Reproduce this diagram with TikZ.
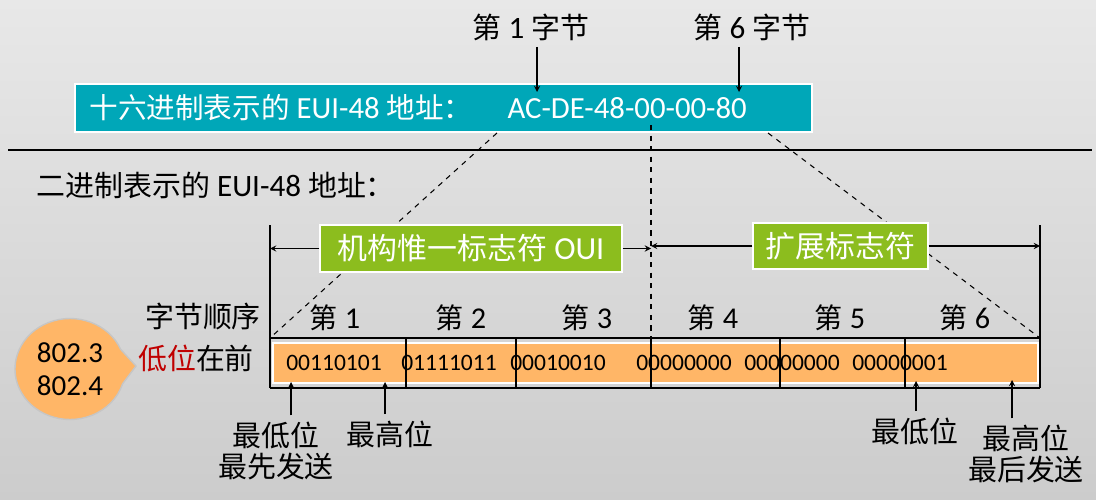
\documentclass[tikz,border=0pt]{standalone}
\usepackage{fontspec}
\setmainfont{Carlito}
\newfontfamily\cjk[Scale=0.93]{Noto Sans CJK SC}
\usetikzlibrary{shapes.callouts}
\definecolor{hexteal}{RGB}{0,167,184}
\definecolor{ouigreen}{RGB}{140,189,30}
\definecolor{bitorange}{RGB}{255,182,103}
\definecolor{lowred}{RGB}{192,0,0}
\tikzset{
  big text/.style={font=\fontsize{17.7}{21}\selectfont},
  hex text/.style={font=\fontsize{17.5}{21}\selectfont, text=white, inner sep=0pt},
  hexbox/.style={fill=hexteal, draw=white, line width=0.8pt},
  ouibox/.style={fill=ouigreen, draw=white, line width=0.8pt, text=white,
    font=\fontsize{18.3}{21}\selectfont},
  byte label/.style={font=\fontsize{17.2}{20}\selectfont},
  bit text/.style={font=\fontsize{13.4}{16}\selectfont},
  note/.style={font=\fontsize{17.7}{18}\selectfont, align=center},
  std bubble/.style={ellipse callout, fill=bitorange, draw=gray!45,
    line width=0.8pt, align=center, font=\fontsize{16.5}{19}\selectfont}
}

\begin{document}
\begin{tikzpicture}[x=0.02cm, y=-0.02cm, line width=0.6pt, >=stealth]
  % background
  \shade[top color={rgb,255:red,232;green,232;blue,232},
         bottom color={rgb,255:red,204;green,204;blue,204}]
    (0,0) rectangle (1096,500);
  \useasboundingbox (0,0) rectangle (1096,500);

  % hex address box
  \node[hexbox, minimum width=14.74cm, minimum height=0.96cm] (hex) at (443.5,108) {};
  \node[hex text, anchor=west] (hexname) at (89,108) {{\cjk 十六进制表示的} EUI-48 {\cjk 地址：}};
  \node[hex text, anchor=west] (hexval) at (507,108) {AC-DE-48-00-00-80};

  % first / last byte pointers
  \node[big text] (firstbyte) at (531,27) {{\cjk 第} 1 {\cjk 字节}};
  \node[big text] (lastbyte) at (752,27) {{\cjk 第} 6 {\cjk 字节}};
  \coordinate (tipA) at (537,92);
  \coordinate (tipB) at (739,92);
  \draw[->] (firstbyte.south -| tipA) -- (tipA);
  \draw[->] (lastbyte.south -| tipB) -- (tipB);

  % separator
  \coordinate (sepL) at (8,150);
  \coordinate (sepR) at (1092,150);
  \draw (sepL) -- (sepR);

  \node[big text, anchor=west, inner sep=0pt] (binname) at (36,185) {{\cjk 二进制表示的} EUI-48 {\cjk 地址：}};

  % frame corners
  \coordinate (frameTL) at (270,225);
  \coordinate (frameTR) at (1040,225);
  \coordinate (bitTL) at (270,338);
  \coordinate (bitTM) at (651,338);
  \coordinate (bitTR) at (1040,338);
  \coordinate (bitBL) at (270,388);
  \coordinate (bitBR) at (1040,388);

  % projection lines (behind the green boxes)
  \coordinate (hexA) at (497,133);
  \coordinate (hexM) at (651,125);
  \coordinate (hexB) at (768,133);
  \draw[dashed] (hexA) -- (bitTL);
  \draw[dashed] (hexM) -- (bitTM);
  \draw[dashed] (hexB) -- (bitTR);

  % bit field
  \filldraw[fill=bitorange, draw=white, line width=1.2pt] (273,343) rectangle (1038,383);
  \draw (frameTL) -- (bitBL);
  \draw (frameTR) -- (bitBR);
  \draw (bitTL) -- (bitTR);
  \draw (bitBL) -- (bitBR);
  \foreach \x in {406,516,651,780,905}
    \draw (\x,338) -- (\x,388);

  % OUI / extension
  \node[ouibox, minimum width=6.04cm, minimum height=0.94cm] (oui) at (471,248.5) {{\cjk 机构惟一标志符} OUI};
  \node[ouibox, minimum width=3.5cm, minimum height=0.92cm] (ext) at (840.5,246) {\cjk 扩展标志符};
  \draw[->] (oui.west) -- (oui.west -| frameTL);
  \draw[->] (oui.east) -- (oui.east -| bitTM);
  \draw[->] (ext.west) -- (ext.west -| bitTM);
  \draw[->] (ext.east) -- (ext.east -| frameTR);

  % byte order
  \foreach \i/\x in {1/335,2/461,3/587,4/713,5/840,6/965}
    \node[byte label] (ord\i) at (\x,318) {{\cjk 第} \i};
  \foreach \i/\x/\b in {1/334/00110101,2/449/01111011,3/558/00010010,
                        4/684/00000000,5/792/00000000,6/900/00000001}
    \node[bit text] (bits\i) at (\x,363) {\b};

  \node[big text] (order) at (203,316) {\cjk 字节顺序};
  \node[big text] (lowfirst) at (196,358) {\cjk\textcolor{lowred}{低位}在前};

  % 802.3 / 802.4 bubble
  \coordinate (ptr) at (136,366);
  \node[std bubble, callout absolute pointer={(ptr)}, callout pointer arc=40,
        minimum width=2.06cm, minimum height=2.02cm] (std) at (70,369) {802.3\\802.4};

  % lowest / highest bits
  \node[note] (firstlow) at (276,451) {\cjk 最低位\\\cjk 最先发送};
  \node[note] (lefthigh) at (390,434) {\cjk 最高位};
  \node[note] (lastlow) at (915,431) {\cjk 最低位};
  \node[note] (lasthigh) at (1026,454) {\cjk 最高位\\\cjk 最后发送};
  \coordinate (lsbA) at (291,382);
  \coordinate (msbA) at (385,382);
  \coordinate (lsbB) at (916,381);
  \coordinate (msbB) at (1012,380);
  \draw[->] (firstlow.north -| lsbA) -- (lsbA);
  \draw[->] (lefthigh.north -| msbA) -- (msbA);
  \draw[->] (lastlow.north -| lsbB) -- (lsbB);
  \draw[->] (lasthigh.north -| msbB) -- (msbB);
\end{tikzpicture}
\end{document}
